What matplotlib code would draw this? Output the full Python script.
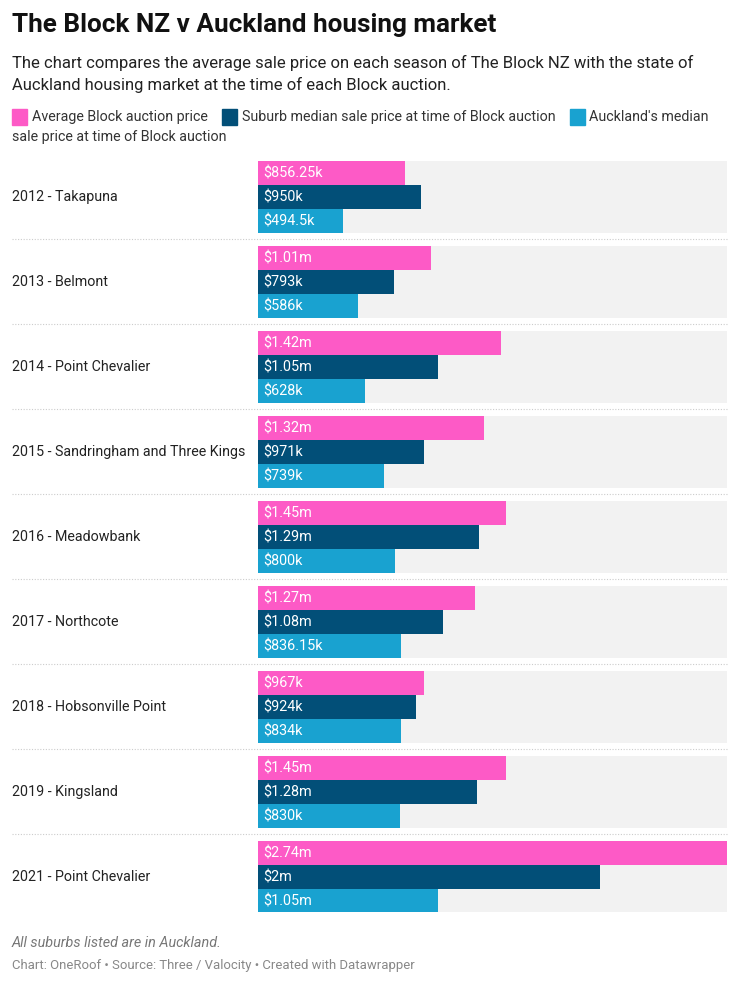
import matplotlib
matplotlib.use("Agg")
import matplotlib.pyplot as plt

categories = ["2012 - Takapuna", "2013 - Belmont", "2014 - Point Chevalier",
              "2015 - Sandringham and Three Kings", "2016 - Meadowbank", "2017 - Northcote",
              "2018 - Hobsonville Point", "2019 - Kingsland", "2021 - Point Chevalier"]
block_avg = [856250, 1010000, 1420000, 1320000, 1450000, 1270000, 967000, 1450000, 2740000]
suburb_median = [950000, 793000, 1050000, 971000, 1290000, 1080000, 924000, 1280000, 2000000]
akl_median = [494500, 586000, 628000, 739000, 800000, 836150, 834000, 830000, 1050000]
series_names = ["Average Block auction price", "Suburb median sale price at time of Block auction",
                "Auckland's median sale price at time of Block auction"]
colors = ["#fd5ac6", "#024f78", "#19a2d0"]

plt.rcParams['font.family'] = ['Roboto', 'DejaVu Sans']

W, H = 740, 986
fig = plt.figure(figsize=(W / 100, H / 100), dpi=100)


def fx(px):
    return px / W


def fy(py):
    return 1 - py / H


def fmt(v):
    if v >= 1e6:
        s = f"{v/1e6:.2f}".rstrip('0').rstrip('.')
        return f"${s}m"
    s = f"{v/1e3:.2f}".rstrip('0').rstrip('.')
    return f"${s}k"


# Header
fig.text(fx(12), fy(25), "The Block NZ v Auckland housing market", fontsize=18.8,
         fontweight='bold', va='center', ha='left', color='#111111')
fig.text(fx(12), fy(63), "The chart compares the average sale price on each season of The Block NZ with the state of",
         fontsize=12.0, va='center', ha='left', color='#222222')
fig.text(fx(12), fy(85), "Auckland housing market at the time of each Block auction.",
         fontsize=12.0, va='center', ha='left', color='#222222')

# Legend
leg_fs = 10.25
leg_x = [12, 222, 570]
for i, name in enumerate(series_names):
    fig.patches.append(plt.Rectangle((fx(leg_x[i]), fy(125)), fx(15), 16 / H,
                                     transform=fig.transFigure, color=colors[i]))
fig.text(fx(32), fy(117), series_names[0], fontsize=leg_fs, va='center', ha='left', color='#333333')
fig.text(fx(242), fy(117), series_names[1], fontsize=leg_fs, va='center', ha='left', color='#333333')
fig.text(fx(589), fy(117), "Auckland's median", fontsize=leg_fs, va='center', ha='left', color='#333333')
fig.text(fx(12), fy(137), "sale price at time of Block auction", fontsize=leg_fs, va='center', ha='left', color='#333333')

# Bars
top, bottom, left, right = 161, 912, 258, 727
ax = fig.add_axes([fx(left), fy(bottom), fx(right - left), (bottom - top) / H])
pitch, bh = 85, 24
xmax = max(block_avg + suburb_median + akl_median)
ax.set_xlim(0, xmax)
ax.set_ylim(bottom - top, 0)
ax.axis('off')

series = [block_avg, suburb_median, akl_median]
for i, cat in enumerate(categories):
    g0 = pitch * i
    ax.barh(g0 + 1.5 * bh, xmax, height=3 * bh, color='#f2f2f2', zorder=0)
    for j, s in enumerate(series):
        yc = g0 + bh / 2 + j * bh
        ax.barh(yc, s[i], height=bh, color=colors[j], zorder=1)
        ax.text(xmax * 5 / (right - left), yc + 0.5, fmt(s[i]), color='white', fontsize=10.4,
                va='center', ha='left', zorder=2)
    fig.text(fx(12), fy(top + g0 + 36), cat, fontsize=10.3, va='center', ha='left', color='#222222')
    if i > 0:
        ysep = fy(top + g0 - 7)
        fig.add_artist(plt.Line2D([fx(12), fx(727)], [ysep, ysep], transform=fig.transFigure,
                                  color='#cccccc', lw=0.8, ls=(0, (1, 1.5))))

# Footer
fig.text(fx(12), fy(943), "All suburbs listed are in Auckland.", fontsize=10.4, style='italic',
         va='center', ha='left', color='#777777')
fig.text(fx(12), fy(966), "Chart: OneRoof • Source: Three / Valocity • Created with Datawrapper",
         fontsize=9.45, va='center', ha='left', color='#888888')

fig.savefig("out.png", dpi=100, facecolor='white')
